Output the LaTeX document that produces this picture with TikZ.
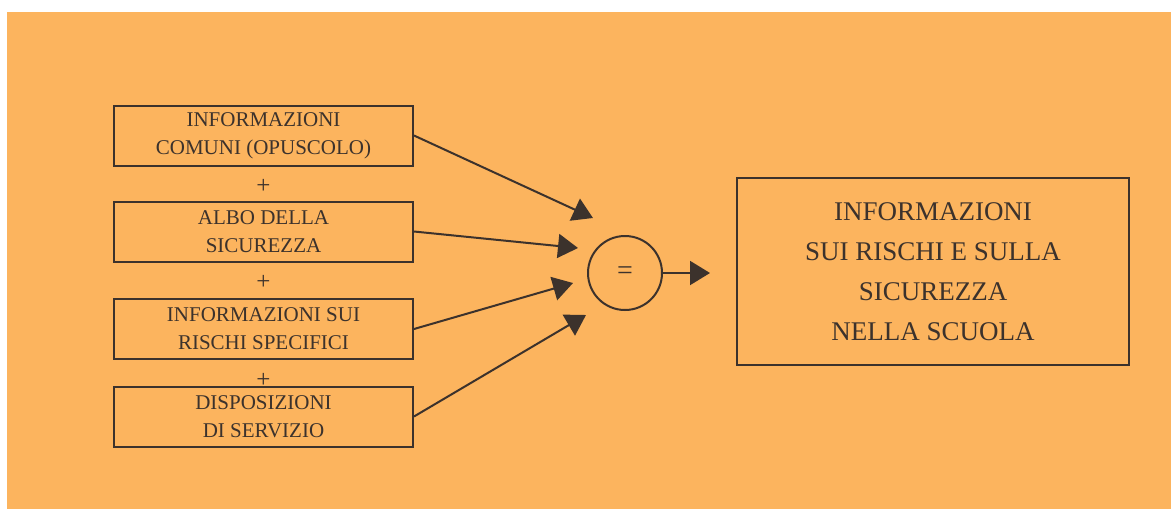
\documentclass[tikz,border=0pt]{standalone}
\usepackage{fontspec}
\setmainfont{Liberation Serif}
\usetikzlibrary{arrows.meta}
\definecolor{paperorange}{RGB}{252,180,94}
\definecolor{inkgray}{RGB}{60,50,44}
\tikzset{
   srcbox/.style={draw=inkgray, line width=1pt, minimum width=149.5pt, minimum height=30pt,
                  inner sep=0pt, align=center, text=inkgray, font=\fontsize{10.5}{14}\selectfont},
   resbox/.style={draw=inkgray, line width=1pt, minimum width=196pt, minimum height=93.5pt,
                  inner sep=0pt, align=center, text=inkgray, font=\fontsize{13.5}{20}\selectfont},
   plussign/.style={text=inkgray, inner sep=0pt, font=\fontsize{12.5}{12.5}\selectfont},
   eqcircle/.style={draw=inkgray, line width=1pt, circle, minimum size=37pt, inner sep=0pt,
                  text=inkgray, font=\fontsize{14}{14}\selectfont},
   feed/.style={draw=inkgray, line width=1pt, -{Triangle[length=10pt,width=12pt]}}
}

\begin{document}
\begin{tikzpicture}[x=0.5pt,y=-0.5pt]
\useasboundingbox (0,0) rectangle (1171,509);
\fill[white] (0,0) rectangle (1171,509);
\fill[paperorange] (7,12) rectangle (1171,509);

% sources
\node[srcbox] (info)  at (263.5,135.5) {INFORMAZIONI\\COMUNI (OPUSCOLO)};
\node[srcbox] (albo)  at (263.5,231.5) {ALBO DELLA\\SICUREZZA};
\node[srcbox] (risk)  at (263.5,329)   {INFORMAZIONI SUI\\RISCHI SPECIFICI};
\node[srcbox] (disp)  at (263.5,416.5) {DISPOSIZIONI\\DI SERVIZIO};

\node[plussign] (p1) at (263.5,186) {+};
\node[plussign] (p2) at (263.5,282) {+};
\node[plussign] (p3) at (263.5,380) {+};

% sum and result
\node[eqcircle] (eq) at (625,273) {=};
\node[resbox] (res) at (933,271.5) {INFORMAZIONI\\SUI RISCHI E SULLA\\SICUREZZA\\NELLA SCUOLA};

\coordinate (t1) at (593,218);
\coordinate (t2) at (578,248);
\coordinate (t3) at (573,283);
\coordinate (t4) at (586,315);
\coordinate (t5) at (710,273);

\draw[feed] (info.east) -- (t1);
\draw[feed] (albo.east) -- (t2);
\draw[feed] (risk.east) -- (t3);
\draw[feed] (disp.east) -- (t4);
\draw[feed] (eq.east) -- (t5);
\end{tikzpicture}
\end{document}
